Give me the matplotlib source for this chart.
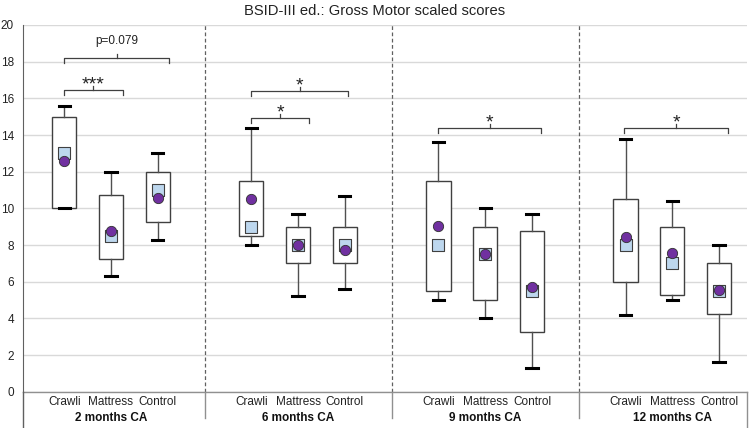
import matplotlib.pyplot as plt
import matplotlib.transforms as mtransforms

plt.rcParams['font.family'] = ['Liberation Sans', 'DejaVu Sans']

# data
groups = ["2 months CA", "6 months CA", "9 months CA", "12 months CA"]
categories = ["Crawli", "Mattress", "Control"]

whis_hi = [15.6, 12.0, 13.0, 14.4, 9.7, 10.7, 13.6, 10.0, 9.7, 13.8, 10.4, 8.0]
q3 = [15.0, 10.75, 12.0, 11.5, 9.0, 9.0, 11.5, 9.0, 8.75, 10.5, 9.0, 7.0]
q1 = [10.0, 7.25, 9.25, 8.5, 7.0, 7.0, 5.5, 5.0, 3.25, 6.0, 5.25, 4.25]
whis_lo = [10.0, 6.3, 8.3, 8.0, 5.2, 5.6, 5.0, 4.0, 1.3, 4.2, 5.0, 1.6]
medians = [13.0, 8.5, 11.0, 9.0, 8.0, 8.0, 8.0, 7.5, 5.5, 8.0, 7.0, 5.5]
means = [12.57, 8.77, 10.57, 10.5, 8.0, 7.75, 9.05, 7.5, 5.7, 8.45, 7.55, 5.55]

# significance brackets: (x start, x end, height, label)
brackets = [
    (0.0, 2.25, 18.2, "p=0.079"),
    (0.0, 1.25, 16.45, "***"),
    (4.0, 6.07, 16.42, "*"),
    (4.0, 5.23, 14.95, "*"),
    (8.0, 10.2, 14.4, "*"),
    (11.97, 14.19, 14.4, "*"),
]

# positions: 3 boxes per group with a gap slot between groups
pos = []
for g in range(len(groups)):
    pos += [g * 4 + i for i in range(len(categories))]

fig = plt.figure(figsize=(7.5, 4.28), dpi=100)
ax = fig.add_axes([0.0307, 0.0848, 0.9649, 0.8568])

stats = []
for i in range(len(pos)):
    stats.append({"med": medians[i], "q1": q1[i], "q3": q3[i],
                  "whislo": whis_lo[i], "whishi": whis_hi[i], "fliers": []})

ax.bxp(stats, positions=pos, widths=0.52, patch_artist=True, showfliers=False,
       boxprops=dict(facecolor="white", edgecolor="#404040", linewidth=1.0),
       whiskerprops=dict(color="#505050", linewidth=1.0),
       capprops=dict(color="black", linewidth=2.2),
       capwidths=0.24,
       medianprops=dict(linestyle="none"), zorder=2)

ax.scatter(pos, medians, marker="s", s=70, color="#BDD7EE", edgecolor="#404040",
           linewidth=0.8, zorder=3)
ax.scatter(pos, means, marker="o", s=55, color="#7030A0", edgecolor="#303030",
           linewidth=0.6, zorder=4)

ax.set_ylim(0, 20)
ax.set_xlim(-0.88, 14.59)
ax.set_yticks(range(0, 21, 2))
ax.tick_params(axis="y", length=0, labelsize=8.5, pad=6.5, labelcolor="#222222")
ax.set_xticks([])
ax.grid(axis="y", color="#d9d9d9", linewidth=1.0, zorder=0)
ax.set_axisbelow(True)
for s in ["top", "right", "bottom"]:
    ax.spines[s].set_visible(False)
ax.spines["left"].set_color("#606060")
ax.spines["left"].set_bounds(0, 20)

trans = mtransforms.blended_transform_factory(ax.transData, ax.transAxes)

# x axis line and lines of the category area
ax.plot([-0.88, 14.59], [0, 0], transform=trans, color="#909090", lw=1.0, clip_on=False)
ax.plot([-0.88, -0.88], [0, -0.1], transform=trans, color="#606060", lw=1.0, clip_on=False)
ax.plot([14.59, 14.59], [0, -0.1], transform=trans, color="#909090", lw=1.0, clip_on=False)
for g in range(1, len(groups)):
    xs = g * 4 - 1
    ax.plot([xs, xs], [0, 20], color="#606060", lw=0.9, ls=(0, (3, 2)), zorder=1)
    ax.plot([xs, xs], [0, -0.072], transform=trans, color="#909090", lw=1.0, clip_on=False)

# category and group labels
for i, p in enumerate(pos):
    ax.text(p, -0.028, categories[i % 3], transform=trans, ha="center", va="center",
            fontsize=8.5, color="#222222")
for g, name in enumerate(groups):
    ax.text(g * 4 + 1, -0.071, name, transform=trans, ha="center", va="center",
            fontsize=8.5, fontweight="bold", color="#111111")

# brackets
for x0, x1, h, lab in brackets:
    xm = (x0 + x1) / 2
    ax.plot([x0, x0, x1, x1], [h - 0.27, h, h, h - 0.27], color="#404040", lw=0.9, zorder=5)
    ax.plot([xm, xm], [h, h + 0.2], color="#404040", lw=0.9, zorder=5)
    if lab.startswith("p"):
        ax.text(xm, h + 0.6, lab, ha="center", va="bottom", fontsize=8.5, color="#222222")
    else:
        ax.text(xm, h + 0.03, lab, ha="center", va="baseline", fontsize=14, color="#222222")

fig.text(0.5, 0.975, "BSID-III ed.: Gross Motor scaled scores", ha="center", va="center",
         fontsize=10.6, color="#222222")

fig.savefig("out.png", dpi=100)
